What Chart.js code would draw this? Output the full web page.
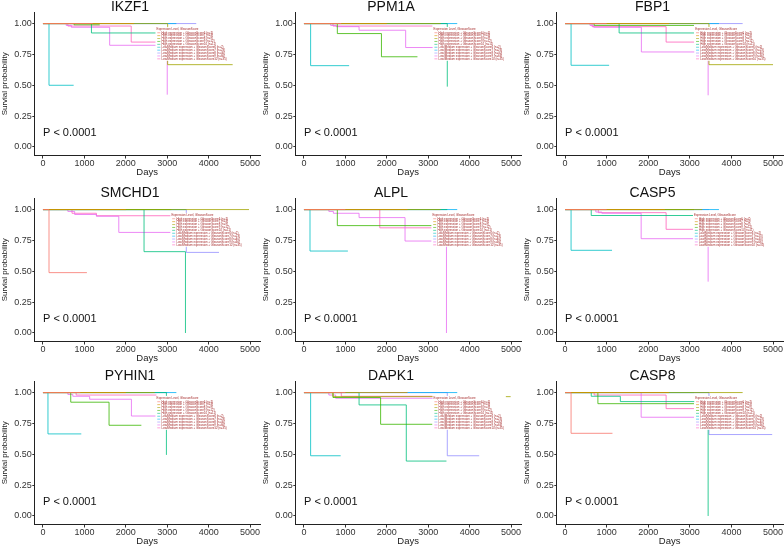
<!DOCTYPE html>
<html>
<head>
<meta charset="utf-8">
<script src="https://cdn.jsdelivr.net/npm/chart.js@4.4.0/dist/chart.umd.min.js"></script>
<style>
  body { margin: 0; background: #fff; width: 784px; height: 546px; position: relative; overflow: hidden; }
  .panel { position: absolute; }
</style>
</head>
<body>
<div class="panel" style="left:0px;top:-4px"><canvas id="c0" width="261" height="182"></canvas></div>
<div class="panel" style="left:261px;top:-4px"><canvas id="c1" width="261" height="182"></canvas></div>
<div class="panel" style="left:522px;top:-4px"><canvas id="c2" width="262" height="182"></canvas></div>
<div class="panel" style="left:0px;top:182px"><canvas id="c3" width="261" height="182"></canvas></div>
<div class="panel" style="left:261px;top:182px"><canvas id="c4" width="261" height="182"></canvas></div>
<div class="panel" style="left:522px;top:182px"><canvas id="c5" width="262" height="182"></canvas></div>
<div class="panel" style="left:0px;top:365px"><canvas id="c6" width="261" height="182"></canvas></div>
<div class="panel" style="left:261px;top:365px"><canvas id="c7" width="261" height="182"></canvas></div>
<div class="panel" style="left:522px;top:365px"><canvas id="c8" width="262" height="182"></canvas></div>
<script>
// ---- data ----
const genes = ['IKZF1', 'PPM1A', 'FBP1', 'SMCHD1', 'ALPL', 'CASP5', 'PYHIN1', 'DAPK1', 'CASP8'];
const xTicks = [0, 1000, 2000, 3000, 4000, 5000];
const yTicks = [0, 0.25, 0.5, 0.75, 1];
const pText = 'P < 0.0001';
const legendTitle = 'Expression Level, GleasonScore';
const groupLabels = [
  'High expression + GleasonScore6', 'High expression + GleasonScore7', 'High expression + GleasonScore8',
  'High expression + GleasonScore9', 'High expression + GleasonScore10',
  'Low/Medium expression + GleasonScore6', 'Low/Medium expression + GleasonScore7', 'Low/Medium expression + GleasonScore8',
  'Low/Medium expression + GleasonScore9', 'Low/Medium expression + GleasonScore10'
];
const groupN = [7, 3, 9, 12, 11, 2, 23, 40, 66, 35];
const legendDay = [2740, 3130, 3130, 3100, 3100, 3100, 2740, 3130, 3130];

// survival curves: one list of event days and one of survival per group (10 groups)
const ikzf1Days = [[0,1200],[0,2200],[0,3010,4580],[0,750,1370],[0,1170,2980],[0,145,740],[0,3220],[0,3700],[0,560,685,1610,3000],[0,600,2130,2900]];
const ikzf1Surv = [[1,1],[1,1],[1,0.667,0.667],[1,0.99,0.99],[1,0.924,0.924],[1,0.5,0.5],[1,1],[1,1],[1,0.985,0.97,0.824,0.424],[1,0.98,0.85,0.85]];

const ppm1aDays = [[0,900],[0,2000],[0,3300],[0,805,1870,2740],[0,3460],[0,160,1090],[0,3700],[0,3460],[0,645,780,1330,2455,3140],[0,700,3100]];
const ppm1aSurv = [[1,1],[1,1],[1,1],[1,0.919,0.731,0.731],[1,0.489],[1,0.659,0.659],[1,1],[1,1],[1,0.985,0.975,0.946,0.806,0.806],[1,0.98,0.98]];

const fbp1Days = [[0,1000],[0,2500],[0,3460,5000],[0,700,3100],[0,1300,3100],[0,145,1060],[0,3700],[0,4270],[0,600,690,1835,3440],[0,650,2430,3100]];
const fbp1Surv = [[1,1],[1,1],[1,0.667,0.667],[1,0.985,0.985],[1,0.924,0.924],[1,0.662,0.662],[1,1],[1,1],[1,0.985,0.97,0.77,0.419],[1,0.975,0.85,0.85]];

const smchd1Days = [[0,145,1060],[0,2000],[0,4975],[0,3100],[0,2440,3440],[0,3440],[0,3460],[0,3460,4250],[0,600,765,1290,1830,3100],[0,700,1290,3100]];
const smchd1Surv = [[1,0.489,0.489],[1,1],[1,1],[1,1],[1,0.659,0],[1,1],[1,1],[1,0.653,0.653],[1,0.985,0.96,0.946,0.815,0.815],[1,0.97,0.95,0.95]];

const alplDays = [[0,1000],[0,2500],[0,3300],[0,805,3100],[0,3460],[0,145,1060],[0,3700],[0,3460],[0,600,710,1330,2440,3440],[0,1830,3100]];
const alplSurv = [[1,1],[1,1],[1,1],[1,0.87,0.87],[1,1],[1,0.664,0.664],[1,1],[1,1],[1,0.985,0.97,0.935,0.745,0],[1,0.852,0.852]];

const casp5Days = [[0,1000],[0,2400],[0,3300],[0,3100],[0,630,3100],[0,145,1130],[0,3700],[0,3460],[0,740,885,1830,3440],[0,800,2430,3100]];
const casp5Surv = [[1,1],[1,1],[1,1],[1,1],[1,0.952,0.952],[1,0.67,0.67],[1,1],[1,1],[1,0.98,0.97,0.764,0.416],[1,0.975,0.84,0.84]];

const pyhin1Days = [[0,900],[0,2000],[0,2700],[0,670,1595,2375],[0,2980],[0,120,925],[0,3220],[0,3000],[0,600,720,1127,2135,2740],[0,800,2740]];
const pyhin1Surv = [[1,1],[1,1],[1,1],[1,0.922,0.735,0.735],[1,0.495],[1,0.665,0.665],[1,1],[1,1],[1,0.985,0.97,0.946,0.81,0.81],[1,0.98,0.98]];

const dapk1Days = [[0,1000],[0,2500],[0,700,4990],[0,700,1850,3100],[0,1330,2470,3440],[0,160,885],[0,3700],[0,3460,4230],[0,600,765,3460],[0,900,3100]];
const dapk1Surv = [[1,1],[1,1],[1,0.967,0.967],[1,0.96,0.743,0.743],[1,0.9,0.445,0.445],[1,0.488,0.488],[1,1],[1,0.488,0.488],[1,0.98,0.954,0.954],[1,0.97,0.97]];

const casp8Days = [[0,145,1140],[0,2500],[0,4270],[0,790,3100],[0,630,1330,3440],[0,3100],[0,3460],[0,3460,4980],[0,1830,3100],[0,700,2430,3100]];
const casp8Surv = [[1,0.67,0.67],[1,1],[1,1],[1,0.91,0.91],[1,0.97,0.927,0],[1,1],[1,1],[1,0.66,0.66],[1,0.8,0.8],[1,0.98,0.87,0.87]];

const allDays = [ikzf1Days, ppm1aDays, fbp1Days, smchd1Days, alplDays, casp5Days, pyhin1Days, dapk1Days, casp8Days];
const allSurv = [ikzf1Surv, ppm1aSurv, fbp1Surv, smchd1Surv, alplSurv, casp5Surv, pyhin1Surv, dapk1Surv, casp8Surv];

// ggplot hue palette for 10 groups
const groupColors = ['#F8766D', '#D89000', '#A3A500', '#39B600', '#00BF7D', '#00BFC4', '#00B0F6', '#9590FF', '#E76BF3', '#FF62BC'];

const FONT = '"Liberation Sans", Arial, sans-serif';

// p value text and the small in-plot legend
const annotPlugin = {
  id: 'annot',
  afterDatasetsDraw(chart) {
    const ctx = chart.ctx;
    const xs = chart.scales.x, ys = chart.scales.y;
    const idx = chart.options.plugins.annot.panel;
    ctx.save();
    // p value
    ctx.font = '11px ' + FONT;
    ctx.fillStyle = '#111';
    ctx.textBaseline = 'middle';
    ctx.textAlign = 'left';
    ctx.fillText(pText, xs.getPixelForValue(0), ys.getPixelForValue(0.11));

    // legend
    const lx = xs.getPixelForValue(legendDay[idx]);
    const ly = ys.getPixelForValue(0.965);
    const rowH = 2.9;
    ctx.font = '2.9px ' + FONT;
    const rows = groupLabels.map((l, k) => l + ' (n=' + groupN[k] + ')');
    let w = ctx.measureText(legendTitle).width;
    rows.forEach(r => { w = Math.max(w, ctx.measureText(r).width + 5); });
    ctx.fillStyle = '#fff';
    ctx.fillRect(lx - 1, ly - 1, w + 3, rowH * 11 + 2);
    ctx.fillStyle = '#a52a2a';
    ctx.fillText(legendTitle, lx, ly + rowH / 2);
    rows.forEach((r, k) => {
      const yy = ly + rowH * (k + 1) + rowH / 2 + 0.5;
      ctx.strokeStyle = groupColors[k];
      ctx.lineWidth = 0.6;
      ctx.beginPath();
      ctx.moveTo(lx + 0.8, yy);
      ctx.lineTo(lx + 3.8, yy);
      ctx.stroke();
      ctx.fillStyle = '#a52a2a';
      ctx.fillText(r, lx + 5, yy);
    });
    ctx.restore();
  }
};

function makePanel(i) {
  const days = allDays[i], surv = allSurv[i];
  const datasets = days.map((d, g) => ({
    label: groupLabels[g],
    data: d.map((t, k) => ({ x: t, y: surv[g][k] })),
    borderColor: groupColors[g] + 'cc',
    borderWidth: 1,
    pointRadius: 0,
    stepped: true,
    fill: false
  }));

  new Chart(document.getElementById('c' + i).getContext('2d'), {
    type: 'line',
    data: { datasets: datasets },
    options: {
      responsive: false,
      animation: false,
      layout: { padding: { left: 0, right: 1, top: 0, bottom: 0 } },
      scales: {
        x: {
          type: 'linear',
          min: -210,
          max: 5240,
          afterBuildTicks: s => { s.ticks = xTicks.map(v => ({ value: v })); },
          afterFit: s => { s.height = 22.5; },
          grid: { drawOnChartArea: false, tickLength: 3, color: '#333' },
          border: { color: '#222', width: 1 },
          ticks: { font: { size: 9, family: FONT }, color: '#333', padding: 0, maxRotation: 0, callback: v => String(v) },
          title: { display: true, text: 'Days', font: { size: 9.5, family: FONT }, color: '#222', padding: 0 }
        },
        y: {
          type: 'linear',
          min: -0.069,
          max: 1.093,
          afterBuildTicks: s => { s.ticks = yTicks.map(v => ({ value: v })); },
          afterFit: s => { s.width = 34.3; },
          grid: { drawOnChartArea: false, tickLength: 2, color: '#333' },
          border: { color: '#222', width: 1 },
          ticks: { font: { size: 9, family: FONT }, color: '#333', padding: 0.5, callback: v => v.toFixed(2) },
          title: { display: true, text: 'Survial probability', font: { size: 8, family: FONT }, color: '#222', padding: 0 }
        }
      },
      plugins: {
        legend: { display: false },
        tooltip: { enabled: false },
        title: {
          display: true,
          text: genes[i],
          font: { size: 14, family: FONT, weight: 'normal', lineHeight: 0.65 },
          color: '#111',
          padding: { top: 7, bottom: 0 }
        },
        annot: { panel: i }
      }
    },
    plugins: [annotPlugin]
  });
}

genes.forEach((g, i) => makePanel(i));
</script>
</body>
</html>
